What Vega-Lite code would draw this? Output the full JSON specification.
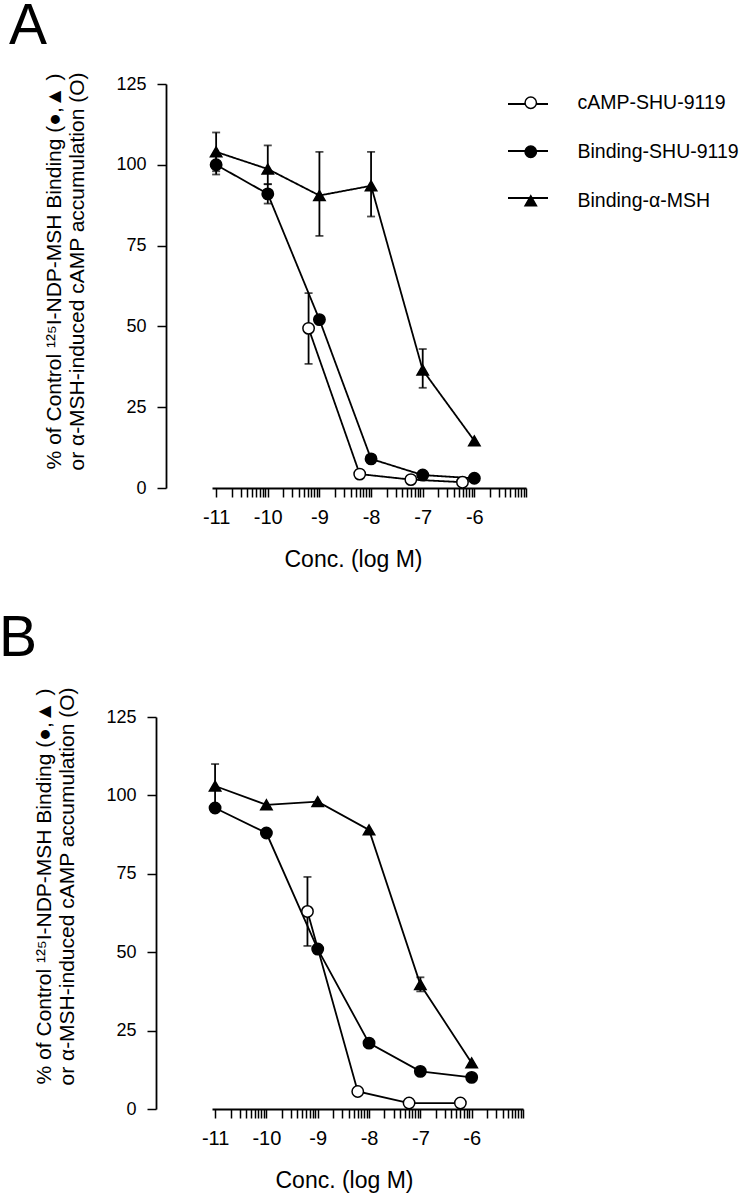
{
  "$schema": "https://vega.github.io/schema/vega-lite/v6.json",
  "padding": {"left": -2, "top": -3, "right": 5, "bottom": 5},
  "config": {
    "font": "Liberation Sans",
    "view": {"stroke": null},
    "axis": {"domainColor": "black", "tickColor": "black", "labelColor": "black", "titleColor": "black", "grid": false, "domainWidth": 1.8, "tickWidth": 1.5, "titleFontWeight": "normal"},
    "axisY": {"tickSize": 9, "labelFontSize": 18, "labelPadding": 11, "titleFontSize": 21, "titleLineHeight": 23, "titlePadding": 28},
    "axisX": {"labelFontSize": 20, "labelPadding": 10, "labelFlush": false, "labelOverlap": false, "tickSize": 9, "titleFontSize": 23, "titlePadding": 21},
    "title": {"fontWeight": "normal", "color": "black"},
    "legend": {"labelColor": "black", "labelFontSize": 19.5, "labelLimit": 400}
  },
  "datasets": {
    "A": [
      {"series": "cAMP-SHU-9119", "logM": -9.21, "pct": 49.4, "lo": 38.4, "hi": 60.3},
      {"series": "cAMP-SHU-9119", "logM": -8.22, "pct": 4.3, "lo": 3.4, "hi": 5.4},
      {"series": "cAMP-SHU-9119", "logM": -7.23, "pct": 2.6},
      {"series": "cAMP-SHU-9119", "logM": -6.23, "pct": 1.8},
      {"series": "Binding-SHU-9119", "logM": -11, "pct": 100, "lo": 97, "hi": 103},
      {"series": "Binding-SHU-9119", "logM": -10, "pct": 91, "lo": 88, "hi": 94},
      {"series": "Binding-SHU-9119", "logM": -9, "pct": 52.1},
      {"series": "Binding-SHU-9119", "logM": -8, "pct": 9},
      {"series": "Binding-SHU-9119", "logM": -7, "pct": 4},
      {"series": "Binding-SHU-9119", "logM": -6, "pct": 3},
      {"series": "Binding-α-MSH", "logM": -11, "pct": 104, "lo": 98, "hi": 110},
      {"series": "Binding-α-MSH", "logM": -10, "pct": 98.7, "lo": 94, "hi": 106},
      {"series": "Binding-α-MSH", "logM": -9, "pct": 90.5, "lo": 78, "hi": 104},
      {"series": "Binding-α-MSH", "logM": -8, "pct": 93.5, "lo": 84, "hi": 104},
      {"series": "Binding-α-MSH", "logM": -7, "pct": 36.5, "lo": 31, "hi": 43},
      {"series": "Binding-α-MSH", "logM": -6, "pct": 14.6}
    ],
    "B": [
      {"series": "cAMP-SHU-9119", "logM": -9.2, "pct": 63, "lo": 52, "hi": 74},
      {"series": "cAMP-SHU-9119", "logM": -8.22, "pct": 5.6, "lo": 4.6, "hi": 6.6},
      {"series": "cAMP-SHU-9119", "logM": -7.22, "pct": 1.9, "lo": 1.2, "hi": 2.6},
      {"series": "cAMP-SHU-9119", "logM": -6.22, "pct": 1.9, "lo": 1.2, "hi": 2.6},
      {"series": "Binding-SHU-9119", "logM": -11, "pct": 96},
      {"series": "Binding-SHU-9119", "logM": -10, "pct": 88},
      {"series": "Binding-SHU-9119", "logM": -9, "pct": 51},
      {"series": "Binding-SHU-9119", "logM": -8, "pct": 21},
      {"series": "Binding-SHU-9119", "logM": -7, "pct": 12},
      {"series": "Binding-SHU-9119", "logM": -6, "pct": 10.1},
      {"series": "Binding-α-MSH", "logM": -11, "pct": 103, "lo": 97, "hi": 110},
      {"series": "Binding-α-MSH", "logM": -10, "pct": 97},
      {"series": "Binding-α-MSH", "logM": -9, "pct": 98},
      {"series": "Binding-α-MSH", "logM": -8, "pct": 89},
      {"series": "Binding-α-MSH", "logM": -7, "pct": 39.7, "lo": 37.5, "hi": 42},
      {"series": "Binding-α-MSH", "logM": -6, "pct": 14.7}
    ]
  },
  "spacing": 38,
  "resolve": {"scale": {"stroke": "independent", "strokeDash": "independent", "shape": "independent", "fill": "independent"}},
  "vconcat": [
    {
      "width": 314,
      "height": 404,
      "data": {"name": "A"},
      "title": {"text": "A", "anchor": "start", "fontSize": 57, "dx": -35, "offset": 13},
      "layer": [
        {
          "transform": [{"filter": "isValid(datum.lo)"}],
          "mark": {"type": "errorbar", "ticks": {"size": 8}, "thickness": 1.8, "color": "black"},
          "encoding": {
            "x": {"field": "logM", "type": "quantitative", "scale": {"domain": [-11.08, -5], "nice": false, "zero": false},
              "axis": {"values": [-11, -10.699, -10.523, -10.398, -10.301, -10.222, -10.155, -10.097, -10.046, -10, -9.699, -9.523, -9.398, -9.301, -9.222, -9.155, -9.097, -9.046, -9, -8.699, -8.523, -8.398, -8.301, -8.222, -8.155, -8.097, -8.046, -8, -7.699, -7.523, -7.398, -7.301, -7.222, -7.155, -7.097, -7.046, -7, -6.699, -6.523, -6.398, -6.301, -6.222, -6.155, -6.097, -6.046, -6, -5.699, -5.523, -5.398, -5.301, -5.222, -5.155, -5.097, -5.046, -5],
                "labelExpr": "abs(datum.value - round(datum.value)) > 0.001 || datum.value == -5 ? '' : '-' + abs(datum.value)",
                "encode": {"ticks": {"update": {"y2": {"signal": "abs(datum.value - round(datum.value)) > 0.001 ? 5 : 9"}}}},
                "title": "Conc. (log M)", "titleX": 141}},
            "y": {"field": "lo", "type": "quantitative", "scale": {"domain": [0, 125], "nice": false},
              "axis": {"values": [0, 25, 50, 75, 100, 125], "offset": 46, "titleY": 187, "title": ["% of Control ¹²⁵I-NDP-MSH Binding  (●,▲ )", "or α-MSH-induced cAMP accumulation  (O)"]}},
            "y2": {"field": "hi"}
          }
        },
        {
          "mark": {"type": "line", "strokeWidth": 1.8, "color": "black"},
          "encoding": {
            "x": {"field": "logM", "type": "quantitative", "scale": {"domain": [-11.08, -5], "nice": false, "zero": false},
              "axis": {"values": [-11, -10.699, -10.523, -10.398, -10.301, -10.222, -10.155, -10.097, -10.046, -10, -9.699, -9.523, -9.398, -9.301, -9.222, -9.155, -9.097, -9.046, -9, -8.699, -8.523, -8.398, -8.301, -8.222, -8.155, -8.097, -8.046, -8, -7.699, -7.523, -7.398, -7.301, -7.222, -7.155, -7.097, -7.046, -7, -6.699, -6.523, -6.398, -6.301, -6.222, -6.155, -6.097, -6.046, -6, -5.699, -5.523, -5.398, -5.301, -5.222, -5.155, -5.097, -5.046, -5],
                "labelExpr": "abs(datum.value - round(datum.value)) > 0.001 || datum.value == -5 ? '' : '-' + abs(datum.value)",
                "encode": {"ticks": {"update": {"y2": {"signal": "abs(datum.value - round(datum.value)) > 0.001 ? 5 : 9"}}}},
                "title": "Conc. (log M)", "titleX": 141}},
            "y": {"field": "pct", "type": "quantitative", "scale": {"domain": [0, 125], "nice": false},
              "axis": {"values": [0, 25, 50, 75, 100, 125], "offset": 46, "titleY": 187, "title": ["% of Control ¹²⁵I-NDP-MSH Binding  (●,▲ )", "or α-MSH-induced cAMP accumulation  (O)"]}},
            "strokeDash": {"field": "series", "type": "nominal",
              "scale": {"domain": ["Binding-α-MSH", "cAMP-SHU-9119", "Binding-SHU-9119"], "range": [[1, 0], [1, 0], [1, 0]]},
              "legend": {"orient": "none", "legendX": 295, "legendY": -1, "title": null, "labelExpr": "''", "symbolType": "stroke", "symbolSize": 1600, "symbolStrokeWidth": 2, "symbolStrokeColor": "black", "labelFontSize": 19.5, "labelOffset": 20, "rowPadding": 16}}
          }
        },
        {
          "mark": {"type": "point", "strokeWidth": 1.5, "opacity": 1, "size": 130},
          "encoding": {
            "x": {"field": "logM", "type": "quantitative", "scale": {"domain": [-11.08, -5], "nice": false, "zero": false},
              "axis": {"values": [-11, -10.699, -10.523, -10.398, -10.301, -10.222, -10.155, -10.097, -10.046, -10, -9.699, -9.523, -9.398, -9.301, -9.222, -9.155, -9.097, -9.046, -9, -8.699, -8.523, -8.398, -8.301, -8.222, -8.155, -8.097, -8.046, -8, -7.699, -7.523, -7.398, -7.301, -7.222, -7.155, -7.097, -7.046, -7, -6.699, -6.523, -6.398, -6.301, -6.222, -6.155, -6.097, -6.046, -6, -5.699, -5.523, -5.398, -5.301, -5.222, -5.155, -5.097, -5.046, -5],
                "labelExpr": "abs(datum.value - round(datum.value)) > 0.001 || datum.value == -5 ? '' : '-' + abs(datum.value)",
                "encode": {"ticks": {"update": {"y2": {"signal": "abs(datum.value - round(datum.value)) > 0.001 ? 5 : 9"}}}},
                "title": "Conc. (log M)", "titleX": 141}},
            "y": {"field": "pct", "type": "quantitative", "scale": {"domain": [0, 125], "nice": false},
              "axis": {"values": [0, 25, 50, 75, 100, 125], "offset": 46, "titleY": 187, "title": ["% of Control ¹²⁵I-NDP-MSH Binding  (●,▲ )", "or α-MSH-induced cAMP accumulation  (O)"]}},
            "stroke": {"field": "series", "type": "nominal",
              "scale": {"domain": ["cAMP-SHU-9119", "Binding-SHU-9119", "Binding-α-MSH"], "range": ["black", "black", "black"]},
              "legend": {"orient": "none", "legendX": 309, "legendY": 9, "title": null, "labelFontSize": 19.5, "labelOffset": 37, "symbolStrokeWidth": 1.5, "symbolSize": 130, "rowPadding": 28}},
            "shape": {"field": "series", "type": "nominal",
              "scale": {"domain": ["cAMP-SHU-9119", "Binding-SHU-9119", "Binding-α-MSH"], "range": ["circle", "circle", "triangle-up"]},
              "legend": {"orient": "none", "legendX": 309, "legendY": 9, "title": null, "labelFontSize": 19.5, "labelOffset": 37, "symbolStrokeWidth": 1.5, "symbolSize": 130, "rowPadding": 28}},
            "fill": {"field": "series", "type": "nominal",
              "scale": {"domain": ["cAMP-SHU-9119", "Binding-SHU-9119", "Binding-α-MSH"], "range": ["white", "black", "black"]},
              "legend": {"orient": "none", "legendX": 309, "legendY": 9, "title": null, "labelFontSize": 19.5, "labelOffset": 37, "symbolStrokeWidth": 1.5, "symbolSize": 130, "rowPadding": 28}}
          }
        }
      ]
    },
    {
      "width": 311,
      "height": 392,
      "data": {"name": "B"},
      "title": {"text": "B", "anchor": "start", "fontSize": 57, "dx": -35, "offset": 16},
      "layer": [
        {
          "transform": [{"filter": "isValid(datum.lo)"}],
          "mark": {"type": "errorbar", "ticks": {"size": 8}, "thickness": 1.8, "color": "black"},
          "encoding": {
            "x": {"field": "logM", "type": "quantitative", "scale": {"domain": [-11.06, -5], "nice": false, "zero": false},
              "axis": {"values": [-11, -10.699, -10.523, -10.398, -10.301, -10.222, -10.155, -10.097, -10.046, -10, -9.699, -9.523, -9.398, -9.301, -9.222, -9.155, -9.097, -9.046, -9, -8.699, -8.523, -8.398, -8.301, -8.222, -8.155, -8.097, -8.046, -8, -7.699, -7.523, -7.398, -7.301, -7.222, -7.155, -7.097, -7.046, -7, -6.699, -6.523, -6.398, -6.301, -6.222, -6.155, -6.097, -6.046, -6, -5.699, -5.523, -5.398, -5.301, -5.222, -5.155, -5.097, -5.046, -5],
                "labelExpr": "abs(datum.value - round(datum.value)) > 0.001 || datum.value == -5 ? '' : '-' + abs(datum.value)",
                "encode": {"ticks": {"update": {"y2": {"signal": "abs(datum.value - round(datum.value)) > 0.001 ? 5 : 9"}}}},
                "title": "Conc. (log M)", "titleX": 132}},
            "y": {"field": "lo", "type": "quantitative", "scale": {"domain": [0, 125], "nice": false},
              "axis": {"values": [0, 25, 50, 75, 100, 125], "offset": 56, "titleY": 169, "title": ["% of Control ¹²⁵I-NDP-MSH Binding  (●,▲ )", "or α-MSH-induced cAMP accumulation  (O)"]}},
            "y2": {"field": "hi"}
          }
        },
        {
          "mark": {"type": "line", "strokeWidth": 1.8, "color": "black"},
          "encoding": {
            "x": {"field": "logM", "type": "quantitative", "scale": {"domain": [-11.06, -5], "nice": false, "zero": false},
              "axis": {"values": [-11, -10.699, -10.523, -10.398, -10.301, -10.222, -10.155, -10.097, -10.046, -10, -9.699, -9.523, -9.398, -9.301, -9.222, -9.155, -9.097, -9.046, -9, -8.699, -8.523, -8.398, -8.301, -8.222, -8.155, -8.097, -8.046, -8, -7.699, -7.523, -7.398, -7.301, -7.222, -7.155, -7.097, -7.046, -7, -6.699, -6.523, -6.398, -6.301, -6.222, -6.155, -6.097, -6.046, -6, -5.699, -5.523, -5.398, -5.301, -5.222, -5.155, -5.097, -5.046, -5],
                "labelExpr": "abs(datum.value - round(datum.value)) > 0.001 || datum.value == -5 ? '' : '-' + abs(datum.value)",
                "encode": {"ticks": {"update": {"y2": {"signal": "abs(datum.value - round(datum.value)) > 0.001 ? 5 : 9"}}}},
                "title": "Conc. (log M)", "titleX": 132}},
            "y": {"field": "pct", "type": "quantitative", "scale": {"domain": [0, 125], "nice": false},
              "axis": {"values": [0, 25, 50, 75, 100, 125], "offset": 56, "titleY": 169, "title": ["% of Control ¹²⁵I-NDP-MSH Binding  (●,▲ )", "or α-MSH-induced cAMP accumulation  (O)"]}},
            "detail": {"field": "series", "type": "nominal"}
          }
        },
        {
          "mark": {"type": "point", "strokeWidth": 1.5, "opacity": 1, "size": 130},
          "encoding": {
            "x": {"field": "logM", "type": "quantitative", "scale": {"domain": [-11.06, -5], "nice": false, "zero": false},
              "axis": {"values": [-11, -10.699, -10.523, -10.398, -10.301, -10.222, -10.155, -10.097, -10.046, -10, -9.699, -9.523, -9.398, -9.301, -9.222, -9.155, -9.097, -9.046, -9, -8.699, -8.523, -8.398, -8.301, -8.222, -8.155, -8.097, -8.046, -8, -7.699, -7.523, -7.398, -7.301, -7.222, -7.155, -7.097, -7.046, -7, -6.699, -6.523, -6.398, -6.301, -6.222, -6.155, -6.097, -6.046, -6, -5.699, -5.523, -5.398, -5.301, -5.222, -5.155, -5.097, -5.046, -5],
                "labelExpr": "abs(datum.value - round(datum.value)) > 0.001 || datum.value == -5 ? '' : '-' + abs(datum.value)",
                "encode": {"ticks": {"update": {"y2": {"signal": "abs(datum.value - round(datum.value)) > 0.001 ? 5 : 9"}}}},
                "title": "Conc. (log M)", "titleX": 132}},
            "y": {"field": "pct", "type": "quantitative", "scale": {"domain": [0, 125], "nice": false},
              "axis": {"values": [0, 25, 50, 75, 100, 125], "offset": 56, "titleY": 169, "title": ["% of Control ¹²⁵I-NDP-MSH Binding  (●,▲ )", "or α-MSH-induced cAMP accumulation  (O)"]}},
            "stroke": {"value": "black"},
            "shape": {"field": "series", "type": "nominal",
              "scale": {"domain": ["cAMP-SHU-9119", "Binding-SHU-9119", "Binding-α-MSH"], "range": ["circle", "circle", "triangle-up"]}, "legend": null},
            "fill": {"field": "series", "type": "nominal",
              "scale": {"domain": ["cAMP-SHU-9119", "Binding-SHU-9119", "Binding-α-MSH"], "range": ["white", "black", "black"]}, "legend": null}
          }
        }
      ]
    }
  ]
}
